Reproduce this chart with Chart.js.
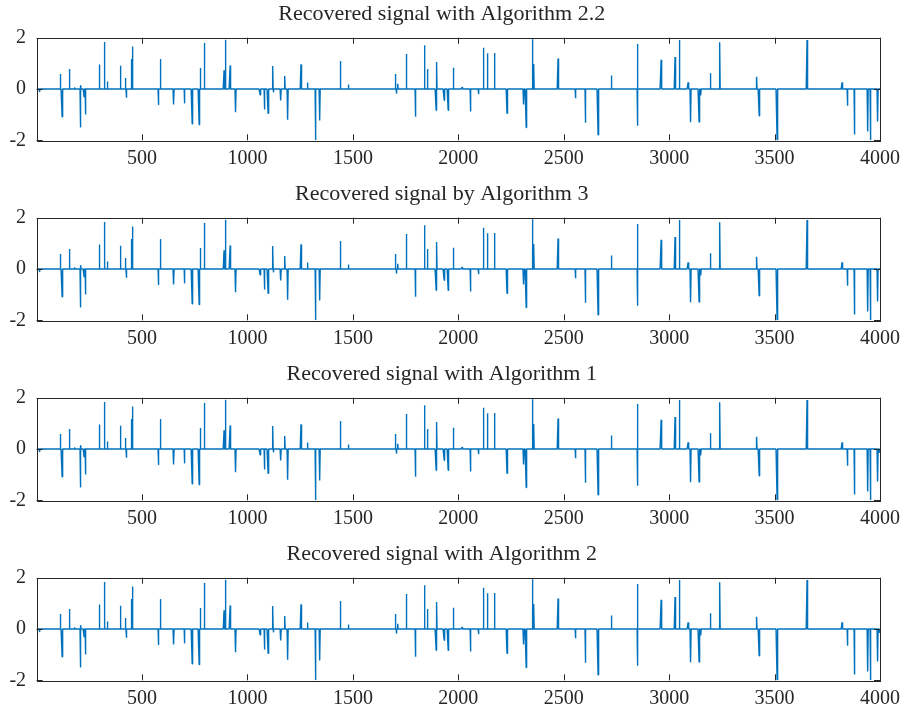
<!DOCTYPE html>
<html>
<head>
<meta charset="utf-8">
<script src="https://cdn.jsdelivr.net/npm/chart.js@4/dist/chart.umd.min.js"></script>
<style>
  html, body { margin:0; padding:0; background:#fff; }
  #wrap { position:relative; width:906px; height:710px; overflow:hidden; }
  .panel { position:absolute; left:0; width:906px; height:180px; }
</style>
</head>
<body>
<div id="wrap">
  <div class="panel" style="top:0"><canvas id="c0"></canvas></div>
  <div class="panel" style="top:180px"><canvas id="c1"></canvas></div>
  <div class="panel" style="top:360px"><canvas id="c2"></canvas></div>
  <div class="panel" style="top:540px"><canvas id="c3"></canvas></div>
</div>
<script>
const titles = [
  'Recovered signal with Algorithm 2.2',
  'Recovered signal by Algorithm 3',
  'Recovered signal with Algorithm 1',
  'Recovered signal with Algorithm 2',
];
const N = 4000;
const xTicks = [500, 1000, 1500, 2000, 2500, 3000, 3500, 4000];
const yTicks = [-2, 0, 2];

// spike locations and amplitudes (same sparse support in every panel)
const spikePos = [13, 113, 121, 156, 180, 208, 210, 225, 233, 298, 323, 336, 397, 421, 427, 449, 456,
  577, 588, 651, 702, 738, 771, 776, 795, 889, 897, 918, 945, 1060, 1080, 1098, 1121, 1123, 1159,
  1178, 1192, 1254, 1256, 1285, 1322, 1344, 1441, 1480, 1703, 1706, 1714, 1755, 1797, 1841, 1853,
  1895, 1898, 1933, 1952, 1978, 2018, 2059, 2096, 2120, 2139, 2173, 2231, 2311, 2322, 2352, 2359,
  2473, 2556, 2603, 2663, 2726, 2849, 2851, 2962, 3028, 3049, 3090, 3103, 3142, 3151, 3195, 3197,
  3241, 3416, 3427, 3512, 3654, 3820, 3847, 3880, 3943, 3956, 3990];
const spikeVal = [-0.12, 0.58, -1.08, 0.78, 0.07, -1.50, 0.15, -0.30, -0.99, 0.96, 1.83, 0.29, 0.91, 0.43, -0.34, 1.17, 1.66,
  -0.62, 1.17, -0.60, -0.56, -1.36, -1.39, 0.82, 1.79, 0.73, 1.92, 0.92, -0.91, -0.23, -0.80, -0.95, 0.90, -0.13, -0.45,
  0.51, -1.20, 0.96, 0.58, 0.25, -2.00, -1.23, 1.09, 0.18, 0.58, -0.18, 0.20, 1.36, -1.08, 1.71, 0.78,
  -0.83, 1.05, -0.44, -0.83, 0.83, 0.07, -0.88, -0.20, 1.61, 1.39, 1.40, -0.95, -0.60, -1.50, 1.94, 0.97,
  1.19, -0.36, -1.32, -1.79, 0.53, 1.75, -1.43, 1.14, 1.25, 1.91, 0.26, -1.30, -1.29, -0.25, 0.20, 0.61,
  1.82, 0.48, -1.04, -1.99, 1.91, 0.26, -0.65, -1.77, -1.66, -2.00, -1.27];
// small tail value seen at the right edge of the last two panels
const tailPos = [3999];
const tailVal = [-0.15];

function buildSignal(withTail) {
  const y = new Array(N).fill(0);
  spikePos.forEach((p, i) => { y[p - 1] = spikeVal[i]; });
  if (withTail) tailPos.forEach((p, i) => { y[p - 1] = tailVal[i]; });
  return y.map((v, i) => ({ x: i + 1, y: v }));
}

const FONT = 'Liberation Serif';
const INK = '#262626';

// MATLAB-like box with inward ticks
const boxTicks = {
  id: 'boxTicks',
  afterDraw(chart) {
    const { ctx, chartArea: a, scales } = chart;
    const L = 6;
    ctx.save();
    ctx.strokeStyle = INK;
    ctx.lineWidth = 1;
    ctx.strokeRect(Math.round(a.left) + 0.5, Math.round(a.top) + 0.5,
      Math.round(a.right - a.left), Math.round(a.bottom - a.top));
    ctx.beginPath();
    xTicks.forEach(t => {
      const x = Math.round(scales.x.getPixelForValue(t)) + 0.5;
      ctx.moveTo(x, a.bottom); ctx.lineTo(x, a.bottom - L);
      ctx.moveTo(x, a.top); ctx.lineTo(x, a.top + L);
    });
    yTicks.forEach(t => {
      const y = Math.round(scales.y.getPixelForValue(t)) + 0.5;
      ctx.moveTo(a.left, y); ctx.lineTo(a.left + L, y);
      ctx.moveTo(a.right, y); ctx.lineTo(a.right - L, y);
    });
    ctx.stroke();
    ctx.restore();
  }
};

function makePanel(idx) {
  new Chart(document.getElementById('c' + idx), {
    type: 'line',
    data: { datasets: [{ data: buildSignal(idx >= 2), borderColor: '#0072BD', borderWidth: 1.4,
      borderJoinStyle: 'bevel', pointRadius: 0, tension: 0, fill: false }] },
    options: {
      responsive: true, maintainAspectRatio: false, animation: false, parsing: false,
      layout: { padding: { left: 0, right: 22.5, top: 0, bottom: 0 } },
      plugins: {
        legend: { display: false }, tooltip: { enabled: false },
        title: { display: true, text: titles[idx], color: INK,
          font: { family: FONT, size: 22, weight: 'normal' }, padding: { top: 1.3, bottom: 10 } },
      },
      scales: {
        x: {
          type: 'linear', min: 0, max: N,
          afterBuildTicks: s => { s.ticks = xTicks.map(v => ({ value: v })); },
          afterFit: s => { s.height = 39.7; },
          grid: { display: false, drawTicks: false }, border: { display: false },
          ticks: { color: INK, font: { family: FONT, size: 20 }, padding: 6, maxRotation: 0,
            callback: v => String(v) },
        },
        y: {
          min: -2, max: 2,
          afterBuildTicks: s => { s.ticks = yTicks.map(v => ({ value: v })); },
          afterFit: s => { s.width = 36.6; },
          grid: { display: false, drawTicks: false }, border: { display: false },
          ticks: { color: INK, font: { family: FONT, size: 20 }, padding: 10.5,
            callback: v => String(v) },
        },
      },
    },
    plugins: [boxTicks],
  });
}

[0, 1, 2, 3].forEach(makePanel);
</script>
</body>
</html>
